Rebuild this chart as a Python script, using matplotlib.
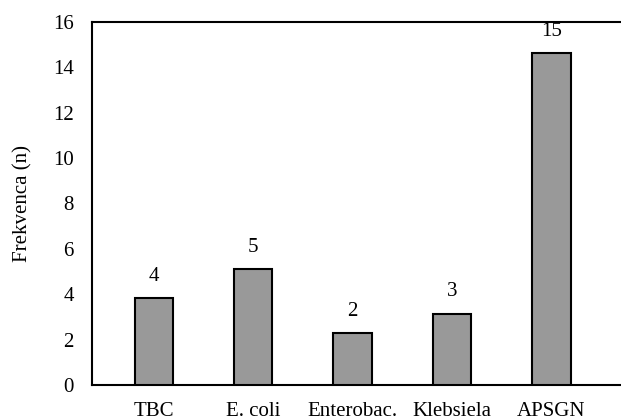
import matplotlib
matplotlib.use("Agg")
import matplotlib.pyplot as plt

categories = ["TBC", "E. coli", "Enterobac.", "Klebsiela", "APSGN"]
bar_heights = [3.83, 5.11, 2.29, 3.13, 14.63]
value_labels = ["4", "5", "2", "3", "15"]
yticks = [0, 2, 4, 6, 8, 10, 12, 14, 16]

plt.rcParams['font.family'] = ['Liberation Serif', 'DejaVu Serif']
FS = 15

W, H = 621, 418
fig = plt.figure(figsize=(W / 100, H / 100), dpi=100)
left, right, top, bottom = 92, 626, 22, 385
ax = fig.add_axes([left / W, 1 - bottom / H, (right - left) / W, (bottom - top) / H])

x = list(range(len(categories)))
bars = ax.bar(x, bar_heights, width=0.385, color="#999999", edgecolor="black", linewidth=1.5, zorder=3)
for xi, h, lab in zip(x, bar_heights, value_labels):
    ax.annotate(lab, (xi, h), xytext=(0, 9), textcoords="offset points",
                ha="center", va="bottom", fontsize=FS)

ax.set_xlim(-0.62, 4.75)
ax.set_ylim(0, 16)
ax.set_yticks(yticks)
ax.set_yticklabels([str(t) for t in yticks], fontsize=FS)
ax.set_xticks(x)
ax.set_xticklabels(categories, fontsize=FS)
ax.tick_params(axis="both", length=0)
ax.tick_params(axis="y", pad=13)
ax.tick_params(axis="x", pad=12)
for s in ax.spines.values():
    s.set_linewidth(1.5)
ax.spines["right"].set_visible(False)
ax.set_ylabel("Frekvenca (n)", fontsize=FS, labelpad=15)

fig.savefig("out.png", dpi=100)
